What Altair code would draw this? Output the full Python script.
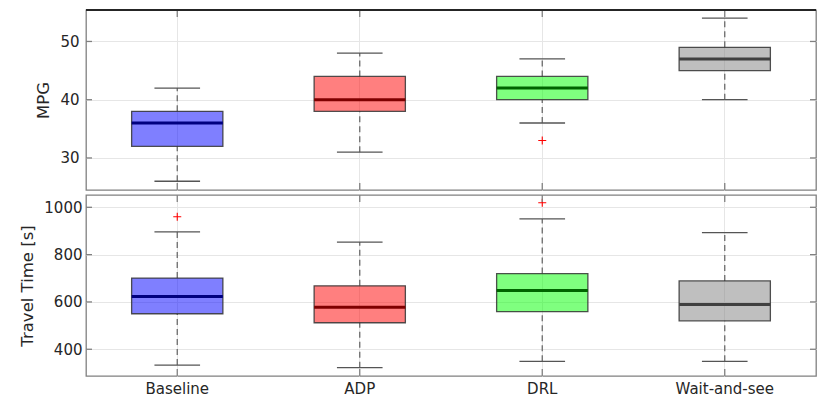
import altair as alt
import pandas as pd

categories = ["Baseline", "ADP", "DRL", "Wait-and-see"]
fill_colors = ["#0000ff", "#ff0000", "#00ff00", "#7f7f7f"]
median_colors = ["#00007f", "#7f0000", "#006400", "#404040"]

# MPG panel
mpg_lower = [26, 31, 36, 40]
mpg_q1 = [32, 38, 40, 45]
mpg_median = [36, 40, 42, 47]
mpg_q3 = [38, 44, 44, 49]
mpg_upper = [42, 48, 47, 54]
mpg_out_cat = ["DRL"]
mpg_out_val = [33]
mpg_ticks = [30, 40, 50]
mpg_domain = [24.5, 55.4]

# Travel time panel
tt_lower = [333, 322, 349, 349]
tt_q1 = [550, 512, 559, 520]
tt_median = [623, 578, 648, 589]
tt_q3 = [701, 668, 720, 689]
tt_upper = [896, 853, 951, 893]
tt_out_cat = ["Baseline", "DRL"]
tt_out_val = [960, 1019]
tt_ticks = [400, 600, 800, 1000]
tt_domain = [287, 1052]

W = 730
FONT = "DejaVu Sans"
GRID = "#e6e6e6"
FRAME = "#808080"


def panel(lower, q1, med, q3, upper, out_cat, out_val, ticks, domain, title,
          height, bottom, label_pad):
    df = pd.DataFrame({
        "cat": categories, "lower": lower, "q1": q1, "med": med,
        "q3": q3, "upper": upper, "fill": fill_colors, "mcol": median_colors,
    })
    odf = pd.DataFrame({"cat": out_cat, "val": out_val})
    tdf = pd.DataFrame({"v": ticks})
    xscale = alt.Scale(domain=categories, paddingInner=0, paddingOuter=0)
    if bottom:
        xaxis = alt.Axis(title=None, labelAngle=0, grid=True, gridColor=GRID,
                         ticks=False, domain=False, labelPadding=5)
    else:
        xaxis = alt.Axis(title=None, labels=False, grid=True, gridColor=GRID,
                         ticks=False, domain=False, labelPadding=0)
    X = alt.X("cat:N", sort=categories, scale=xscale, axis=xaxis, title=None)
    yscale = alt.Scale(domain=domain, nice=False, zero=False)
    yaxis = alt.Axis(values=ticks, title=title, grid=True, gridColor=GRID,
                     ticks=False, domain=False, labelPadding=label_pad,
                     titlePadding=8, format="d")

    def Y(f):
        return alt.Y(f, scale=yscale, axis=yaxis, title=title)

    base = alt.Chart(df)
    whisk_hi = base.mark_rule(strokeDash=[6, 4], color="#6b6b6b", strokeWidth=1.3).encode(
        x=X, y=Y("q3:Q"), y2="upper")
    whisk_lo = base.mark_rule(strokeDash=[6, 4], color="#6b6b6b", strokeWidth=1.3).encode(
        x=X, y=Y("lower:Q"), y2="q1")
    box = base.mark_bar(width={"band": 0.5}, fillOpacity=0.5, stroke="#333333",
                        strokeWidth=1.3, strokeOpacity=0.85).encode(
        x=X, y=Y("q1:Q"), y2="q3",
        fill=alt.Fill("fill:N", scale=None))
    median = base.mark_tick(size=W / 8, thickness=3, opacity=1).encode(
        x=X, y=Y("med:Q"),
        color=alt.Color("mcol:N", scale=None))
    cap_hi = base.mark_tick(size=W / 16, thickness=1.3, color="#555555", opacity=1).encode(
        x=X, y=Y("upper:Q"))
    cap_lo = base.mark_tick(size=W / 16, thickness=1.3, color="#555555", opacity=1).encode(
        x=X, y=Y("lower:Q"))
    outl = alt.Chart(odf).mark_point(shape="M-1,0L1,0M0,-1L0,1", size=64, opacity=1,
                                     color="#ff0000", filled=False, strokeWidth=1.1).encode(
        x=X, y=Y("val:Q"))
    tk = alt.Chart(tdf)
    lt = tk.mark_rule(color=FRAME, strokeWidth=1.3).encode(
        y=Y("v:Q"), x=alt.value(0), x2=alt.value(6))
    rt = tk.mark_rule(color=FRAME, strokeWidth=1.3).encode(
        y=Y("v:Q"), x=alt.value(W - 6), x2=alt.value(W))
    tt = base.mark_rule(color=FRAME, strokeWidth=1.3).encode(
        x=X, y=alt.value(0), y2=alt.value(7))
    bt = base.mark_rule(color=FRAME, strokeWidth=1.3).encode(
        x=X, y=alt.value(height - 7), y2=alt.value(height))
    layers = [whisk_hi, whisk_lo, box, median, cap_hi, cap_lo, outl, lt, rt, tt, bt]
    if not bottom:
        top_line = base.mark_rule(color="#262626", strokeWidth=1.3).encode(
            x=alt.value(0), x2=alt.value(W), y=alt.value(0))
        layers.append(top_line)
    return alt.layer(*layers).properties(width=W, height=height)


top = panel(mpg_lower, mpg_q1, mpg_median, mpg_q3, mpg_upper, mpg_out_cat, mpg_out_val,
            mpg_ticks, mpg_domain, "MPG", 180, False, 7)
bot = panel(tt_lower, tt_q1, tt_median, tt_q3, tt_upper, tt_out_cat, tt_out_val,
            tt_ticks, tt_domain, "Travel Time [s]", 181, True, 4)

chart = alt.vconcat(top, bot, spacing=1).properties(
    padding={"left": 11, "top": 0, "right": 3, "bottom": 0},
    background="white",
).configure_view(
    stroke=FRAME, strokeWidth=1.3
).configure_axis(
    labelFont=FONT, labelFontSize=15, labelColor="#262626",
    titleFont=FONT, titleFontSize=16.5, titleFontWeight="normal", titleColor="#262626",
)

chart.save("out.html", embed_options={"renderer": "svg", "actions": False})
